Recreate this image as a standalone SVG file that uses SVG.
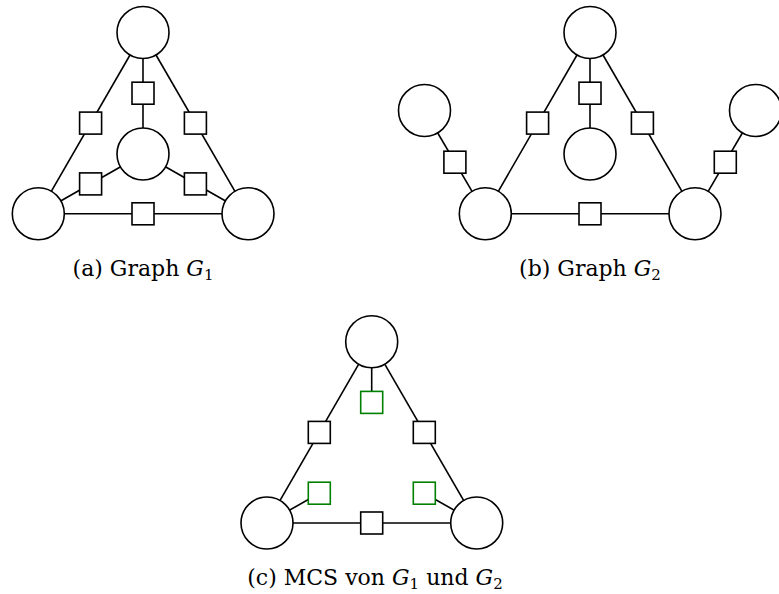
<svg xmlns="http://www.w3.org/2000/svg" width="779" height="594" viewBox="0 0 779 594">
  <style>
    .edge { stroke: #000; stroke-width: 1.6; fill: none; }
    .vert { fill: #fff; stroke: #000; stroke-width: 1.6; }
    .lab { fill: #fff; stroke: #000; stroke-width: 1.6; }
    .lab.match { stroke: #008000; }
    .cap { font-family: "DejaVu Serif", "Liberation Serif", serif; font-size: 22px; fill: #000; }
    .var { font-style: italic; }
    .sub { font-size: 15px; }
  </style>
  <defs>
    <circle id="v" r="26" class="vert"/>
    <rect id="s" x="-11" y="-11" width="22" height="22" class="lab"/>
  </defs>

  <rect width="779" height="594" fill="#fff"/>

  <!-- Graph G1 -->
  <g id="connectors-g1">
    <line class="edge" x1="143" y1="32.5" x2="38.3" y2="213.8"/>
    <line class="edge" x1="143" y1="32.5" x2="248" y2="213.8"/>
    <line class="edge" x1="38.3" y1="213.8" x2="248" y2="213.8"/>
    <line class="edge" x1="143" y1="32.5" x2="143" y2="154"/>
    <line class="edge" x1="38.3" y1="213.8" x2="143" y2="154"/>
    <line class="edge" x1="248" y1="213.8" x2="143" y2="154"/>
  </g>
  <g id="g1-top"><use href="#v" x="143" y="32.5"/></g>
  <g id="g1-center"><use href="#v" x="143" y="154"/></g>
  <g id="g1-left"><use href="#v" x="38.3" y="213.8"/></g>
  <g id="g1-right"><use href="#v" x="248" y="213.8"/></g>
  <g id="g1-e-top-center"><use href="#s" x="143" y="93.2"/></g>
  <g id="g1-e-top-left"><use href="#s" x="90.6" y="123.1"/></g>
  <g id="g1-e-top-right"><use href="#s" x="195.4" y="123.1"/></g>
  <g id="g1-e-left-center"><use href="#s" x="90.6" y="183.9"/></g>
  <g id="g1-e-right-center"><use href="#s" x="195.4" y="183.9"/></g>
  <g id="g1-e-left-right"><use href="#s" x="143" y="213.8"/></g>
  <text class="cap" x="143" y="275.5" text-anchor="middle">(a) Graph <tspan class="var">G</tspan><tspan class="sub" dy="4">1</tspan></text>

  <!-- Graph G2 -->
  <g id="connectors-g2">
    <line class="edge" x1="590" y1="32.5" x2="485.3" y2="213.8"/>
    <line class="edge" x1="590" y1="32.5" x2="695" y2="213.8"/>
    <line class="edge" x1="485.3" y1="213.8" x2="695" y2="213.8"/>
    <line class="edge" x1="590" y1="32.5" x2="590" y2="154"/>
    <line class="edge" x1="485.3" y1="213.8" x2="424.5" y2="110.5"/>
    <line class="edge" x1="695" y1="213.8" x2="755.5" y2="110.5"/>
  </g>
  <g id="g2-top"><use href="#v" x="590" y="32.5"/></g>
  <g id="g2-center"><use href="#v" x="590" y="154"/></g>
  <g id="g2-left"><use href="#v" x="485.3" y="213.8"/></g>
  <g id="g2-right"><use href="#v" x="695" y="213.8"/></g>
  <g id="g2-outer-left"><use href="#v" x="424.5" y="110.5"/></g>
  <g id="g2-outer-right"><use href="#v" x="755.5" y="110.5"/></g>
  <g id="g2-e-top-center"><use href="#s" x="590" y="93.2"/></g>
  <g id="g2-e-top-left"><use href="#s" x="537.6" y="123.1"/></g>
  <g id="g2-e-top-right"><use href="#s" x="642.4" y="123.1"/></g>
  <g id="g2-e-left-right"><use href="#s" x="590" y="213.8"/></g>
  <g id="g2-e-left-outer"><use href="#s" x="454.9" y="162.2"/></g>
  <g id="g2-e-right-outer"><use href="#s" x="725.3" y="162.2"/></g>
  <text class="cap" x="590" y="275.5" text-anchor="middle">(b) Graph <tspan class="var">G</tspan><tspan class="sub" dy="4">2</tspan></text>

  <!-- Maximum common subgraph -->
  <g id="connectors-mcs">
    <line class="edge" x1="371.7" y1="341.7" x2="267" y2="523"/>
    <line class="edge" x1="371.7" y1="341.7" x2="476.7" y2="523"/>
    <line class="edge" x1="267" y1="523" x2="476.7" y2="523"/>
    <line class="edge" x1="371.7" y1="341.7" x2="371.7" y2="402.4"/>
    <line class="edge" x1="267" y1="523" x2="319.3" y2="493.2"/>
    <line class="edge" x1="476.7" y1="523" x2="424.3" y2="493.2"/>
  </g>
  <g id="mcs-top"><use href="#v" x="371.7" y="341.7"/></g>
  <g id="mcs-left"><use href="#v" x="267" y="523"/></g>
  <g id="mcs-right"><use href="#v" x="476.7" y="523"/></g>
  <g id="mcs-e-top-left"><use href="#s" x="319.3" y="432.4"/></g>
  <g id="mcs-e-top-right"><use href="#s" x="424.3" y="432.4"/></g>
  <g id="mcs-e-left-right"><use href="#s" x="371.7" y="523"/></g>
  <g id="mcs-e-top-open"><rect class="lab match" x="360.7" y="391.4" width="22" height="22"/></g>
  <g id="mcs-e-left-open"><rect class="lab match" x="308.3" y="482.2" width="22" height="22"/></g>
  <g id="mcs-e-right-open"><rect class="lab match" x="413.3" y="482.2" width="22" height="22"/></g>
  <text class="cap" x="375" y="585" text-anchor="middle">(c) MCS von <tspan class="var">G</tspan><tspan class="sub" dy="4">1</tspan><tspan dy="-4"> und </tspan><tspan class="var">G</tspan><tspan class="sub" dy="4">2</tspan></text>
</svg>
